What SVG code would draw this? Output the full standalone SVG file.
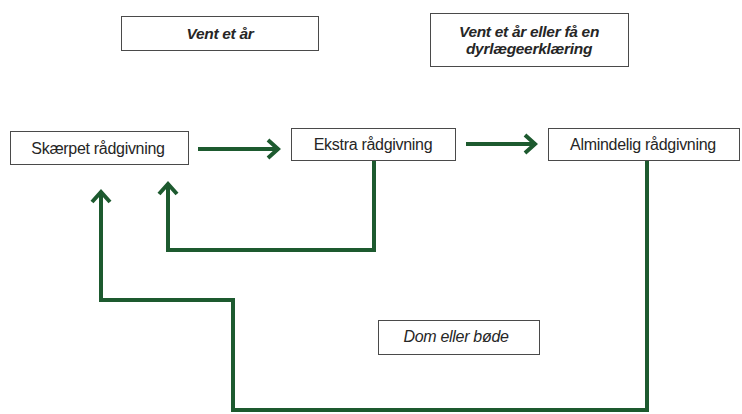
<svg xmlns="http://www.w3.org/2000/svg" width="742" height="414" viewBox="0 0 742 414">
<defs>
<style>
.box{fill:#fff;stroke:#4a4a4a;stroke-width:1}
.t{font-family:"Liberation Sans",Arial,sans-serif;font-size:16px;fill:#262626;text-anchor:middle;letter-spacing:-0.3px}
.bi{font-style:italic;font-weight:bold;font-size:15.5px}
.i{font-style:italic}
.c{fill:none;stroke:#1d5a2f;stroke-width:4;stroke-linejoin:miter}
</style>
<marker id="arr" markerUnits="userSpaceOnUse" markerWidth="24" markerHeight="28" viewBox="-18 -14 24 28" refX="0" refY="0" orient="auto">
<path d="M-11,-9 L-1,0 L-11,9" fill="none" stroke="#1d5a2f" stroke-width="4"/>
</marker>
</defs>
<rect width="742" height="414" fill="#fff"/>
<g id="connectors">
<line class="c" x1="198" y1="149" x2="279" y2="149" marker-end="url(#arr)"/>
<line class="c" x1="466" y1="144" x2="536" y2="144" marker-end="url(#arr)"/>
<polyline class="c" points="374,161 374,250 168,250 168,183" marker-end="url(#arr)"/>
<polyline class="c" points="647,161 647,410 233,410 233,300 101,300 101,191" marker-end="url(#arr)"/>
</g>
<g id="n-vent">
<rect class="box" x="121.5" y="16.5" width="197" height="34"/>
<text class="t bi" x="220" y="39">Vent et år</text>
</g>
<g id="n-vent2">
<rect class="box" x="430.5" y="13.5" width="198" height="53"/>
<text class="t bi" x="529" y="37">Vent et år eller få en</text>
<text class="t bi" x="529" y="54">dyrlægeerklæring</text>
</g>
<g id="n-skaerpet">
<rect class="box" x="10.5" y="131.5" width="178" height="33"/>
<text class="t" x="98" y="154">Skærpet rådgivning</text>
</g>
<g id="n-ekstra">
<rect class="box" x="291.5" y="128.5" width="164" height="32"/>
<text class="t" x="373" y="150">Ekstra rådgivning</text>
</g>
<g id="n-almindelig">
<rect class="box" x="548.5" y="128.5" width="191" height="32"/>
<text class="t" x="643" y="150">Almindelig rådgivning</text>
</g>
<g id="n-dom">
<rect class="box" x="378.5" y="320.5" width="161" height="34"/>
<text class="t i" x="456" y="342">Dom eller bøde</text>
</g>
</svg>
